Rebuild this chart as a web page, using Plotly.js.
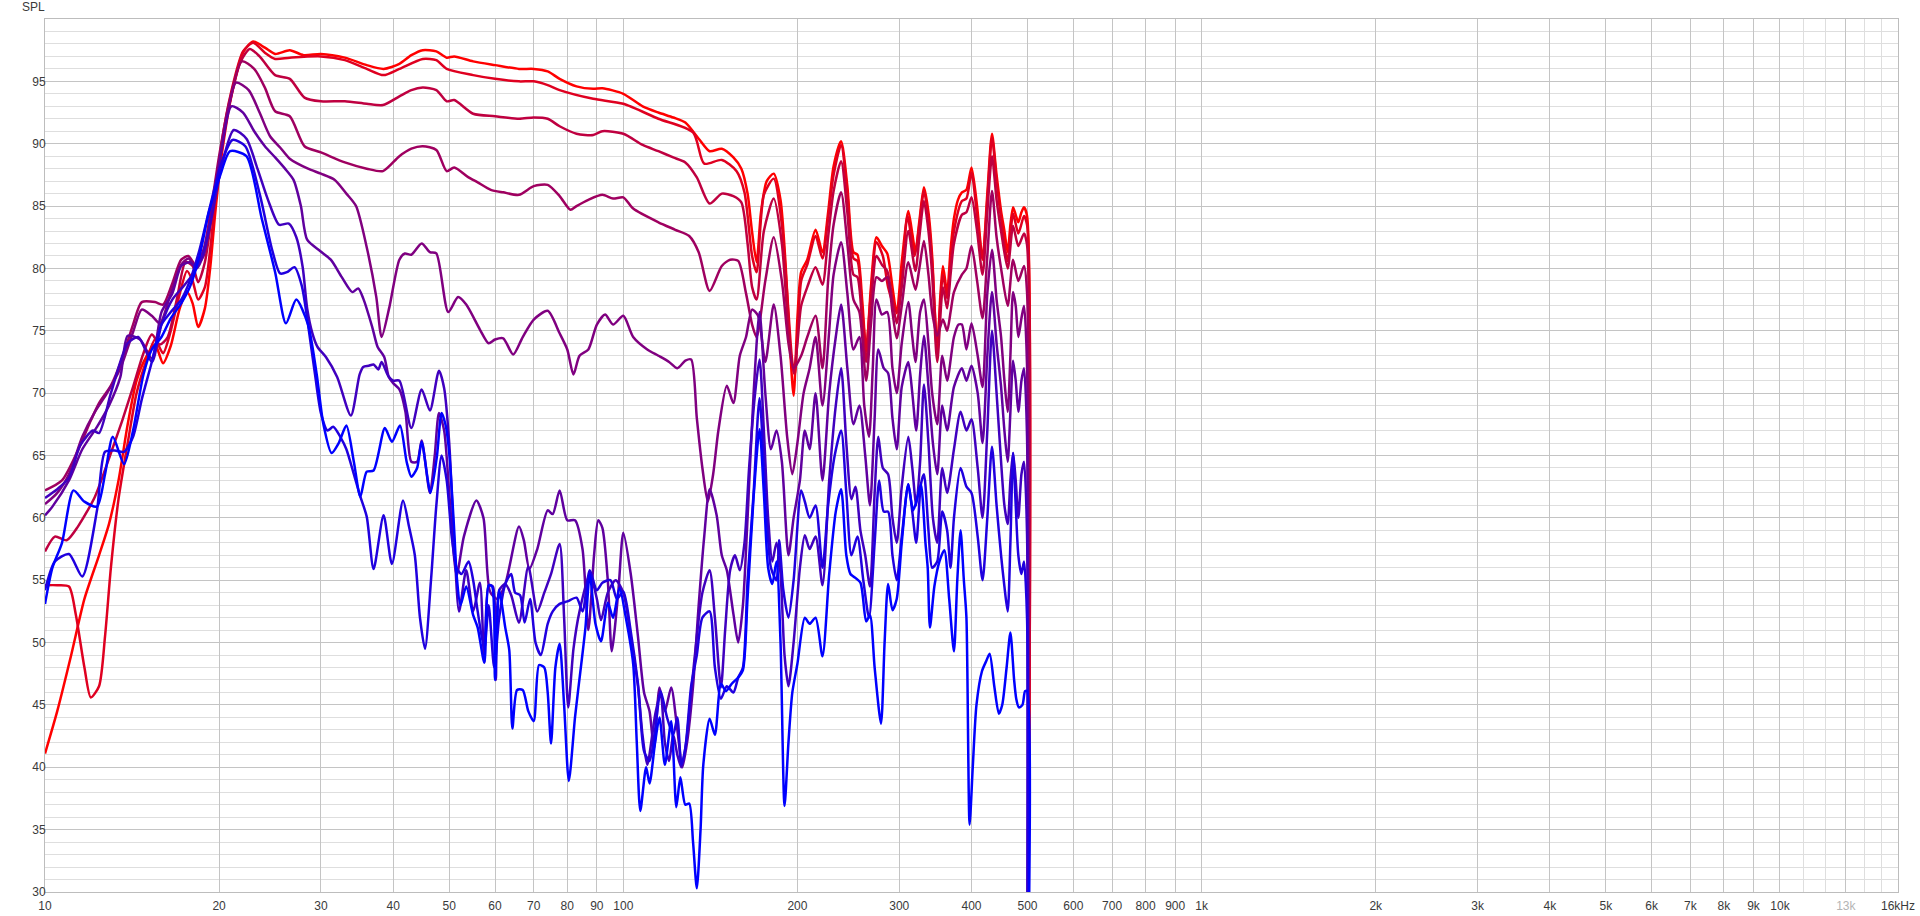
<!DOCTYPE html>
<html>
<head>
<meta charset="utf-8">
<script src="https://cdn.plot.ly/plotly-3.0.1.min.js"></script>
<style>
  html, body { margin: 0; padding: 0; background: #fff; }
  #chart { width: 1920px; height: 916px; }
</style>
</head>
<body>
<div id="chart"></div>
<script>
// SPL overlay, 9 measurements, red -> blue
// each curve: [frequency Hz, SPL dB]

const c1 = [[10,41.1],[10.5,44.5],[11.1,49.0],[11.7,53.5],[12.4,57.0],[12.9,59.5],[13.4,63.0],[13.9,67.5],[14.4,71.0],[15.0,73.0],[15.5,73.9],[16.0,72.4],[16.5,73.8],[17.1,76.8],[17.6,78.1],[18.0,77.2],[18.4,75.3],[18.9,76.8],[19.3,80.0],[19.7,84.5],[20.2,89.0],[21.0,93.8],[22.0,97.3],[22.9,98.2],[24.0,97.7],[25.0,97.2],[26.5,97.5],[28.0,97.1],[30.0,97.2],[33.0,96.9],[36.0,96.3],[38.5,96.0],[41.0,96.4],[43.0,97.1],[45.0,97.5],[47.5,97.4],[49.5,96.9],[51.0,97.0],[55.0,96.6],[60.0,96.3],[66.0,96.0],[70.0,96.0],[74.0,95.8],[77.6,95.2],[83.0,94.6],[88.7,94.4],[92.0,94.45],[100,94.0],[108,93.0],[115,92.5],[122,92.1],[128,91.7],[135,90.4],[141,89.4],[148,89.6],[155,88.9],[160,88.0],[164,86.0],[167,82.9],[170,80.5],[173,84.5],[177,87.0],[182,87.6],[187,85.5],[191,80.0],[194,74.0],[197,69.8],[200,76.0],[203,79.7],[208,80.7],[215,83.1],[221,81.3],[226,84.5],[231,88.2],[238,90.2],[244,86.6],[250,81.3],[254,81.1],[259,77.3],[263,73.3],[268,78.5],[274,82.5],[280,81.8],[286,81.2],[292,78.5],[297,76.4],[303,80.5],[311,84.6],[316,82.8],[320,81.3],[325,83.8],[331,86.5],[337,84.5],[342,81.0],[346,76.0],[349,73.0],[353,77.5],[357,80.2],[363,78.1],[368,81.5],[373,84.0],[379,85.5],[385,86.1],[392,86.3],[400,88.1],[409,85.0],[418,80.7],[426,86.0],[434,90.8],[442,87.5],[450,84.6],[456,83.0],[462,81.3],[467,83.5],[472,84.9],[477,84.3],[482,83.7],[488,84.5],[493,84.9],[499,84.2],[500,20]];

const c2 = [[10,54.6],[10.5,54.6],[11.0,54.5],[11.3,52.3],[11.7,48.0],[12.0,45.6],[12.4,46.5],[12.7,50.5],[13.0,56.0],[13.4,61.5],[13.9,66.0],[14.4,70.0],[15.0,72.7],[15.5,74.3],[16.0,73.2],[16.5,75.0],[17.0,77.5],[17.6,79.8],[18.0,79.0],[18.4,77.5],[18.9,78.5],[19.3,81.5],[19.7,85.5],[20.2,90.0],[21.0,94.2],[22.0,97.4],[22.9,98.1],[24.0,97.3],[25.0,96.8],[26.5,96.9],[30.0,97.0],[33.0,96.7],[36.0,96.0],[38.5,95.5],[41.0,96.0],[45.0,96.8],[47.5,96.7],[49.5,96.0],[55.0,95.5],[60.0,95.2],[66.0,95.0],[70.0,95.0],[74.0,94.7],[77.6,94.3],[88.7,93.6],[100,93.2],[115,92.0],[132,90.9],[138,88.4],[148,88.7],[157,87.8],[162,86.1],[167,81.0],[170,79.7],[175,85.9],[182,87.2],[188,83.5],[192,78.0],[196,72.5],[198,71.5],[203,79.0],[208,80.3],[215,82.6],[221,80.8],[226,84.0],[231,87.5],[238,89.9],[244,86.0],[250,80.8],[254,80.6],[259,76.5],[263,73.7],[268,78.0],[274,82.1],[281,81.0],[287,78.5],[297,76.5],[303,79.0],[310,84.2],[319,81.0],[325,83.5],[331,86.2],[337,84.0],[342,80.5],[349,74.0],[357,79.5],[363,77.6],[368,80.5],[373,83.0],[385,85.4],[392,85.6],[400,87.7],[409,84.2],[418,80.8],[426,85.5],[434,90.5],[442,87.0],[450,84.0],[462,80.6],[472,84.4],[482,82.8],[493,84.2],[499,83.5],[500,20]];

const c3 = [[10,57.3],[10.4,58.5],[10.9,58.2],[11.4,59.3],[12.2,61.7],[13.0,65.2],[13.6,67.8],[14.2,70.5],[14.8,73.2],[15.3,74.7],[15.8,73.9],[16.3,74.5],[16.9,77.5],[17.5,80.5],[18.0,80.2],[18.4,78.9],[18.9,80.5],[19.4,84.0],[20.0,88.5],[20.8,93.0],[21.8,96.6],[22.6,97.6],[23.5,97.0],[25.0,95.5],[26.5,95.2],[28.1,93.7],[30.0,93.4],[33.0,93.4],[36.0,93.2],[38.4,93.1],[41.0,93.8],[43.0,94.3],[45.0,94.5],[47.5,94.3],[49.5,93.4],[51.0,93.5],[55.0,92.4],[60.0,92.2],[66.0,92.0],[70.0,92.1],[74.0,92.0],[77.6,91.4],[83.0,90.8],[88.7,90.7],[92.0,91.0],[100,90.8],[108,89.9],[115,89.4],[122,88.9],[128,88.5],[134,87.3],[141,85.2],[148,86.0],[155,85.8],[160,85.3],[164,82.0],[167,78.5],[170,77.5],[175,83.0],[182,85.6],[188,82.0],[193,75.0],[197,71.6],[200,74.0],[203,77.0],[208,78.5],[215,80.1],[221,78.7],[226,82.5],[231,86.2],[238,88.6],[244,84.5],[250,79.5],[254,79.3],[259,75.5],[263,72.5],[268,77.0],[274,81.0],[280,80.3],[286,79.8],[292,77.5],[297,75.6],[303,78.5],[311,83.0],[320,79.8],[325,82.5],[331,85.4],[337,83.0],[342,79.5],[349,72.5],[357,78.5],[363,76.8],[368,79.5],[373,82.0],[385,84.3],[392,84.5],[400,85.7],[409,83.0],[418,79.5],[426,84.5],[434,89.0],[442,85.5],[450,83.0],[462,80.0],[472,83.4],[482,81.8],[493,82.8],[499,81.9],[500,20]];

const c4 = [[10,62.2],[10.7,63.0],[11.4,65.4],[12.0,67.8],[12.4,69.2],[13.0,70.6],[13.6,72.8],[14.2,75.5],[14.7,77.3],[15.5,77.3],[16.0,77.1],[16.6,78.8],[17.2,80.7],[17.7,81.0],[18.2,80.3],[18.8,81.5],[19.4,85.0],[20.0,89.0],[20.8,93.2],[21.9,96.6],[23.0,96.0],[24.0,94.5],[25.0,92.6],[26.5,92.2],[28.1,89.8],[30.0,89.3],[33.0,88.5],[36.0,88.0],[38.4,87.8],[41.0,89.0],[43.0,89.6],[45.0,89.8],[47.5,89.5],[49.5,87.8],[51.0,88.1],[54.0,87.3],[56.0,86.9],[59.0,86.3],[62.0,86.1],[66.0,85.9],[70.0,86.6],[74.0,86.7],[77.6,85.8],[81.0,84.7],[83.0,85.0],[87.0,85.5],[92.0,85.9],[96.0,85.6],[100,85.7],[104,84.8],[115,83.7],[123,83.1],[130,82.6],[135,81.3],[141,78.2],[148,80.2],[153,80.7],[158,80.6],[163,78.0],[167,75.5],[170,74.5],[176,79.0],[182,82.5],[188,79.0],[193,74.0],[197,72.0],[203,73.0],[208,74.5],[215,76.2],[221,72.0],[226,79.0],[231,83.5],[238,86.1],[244,82.0],[250,77.5],[256,76.5],[263,71.0],[268,75.5],[274,79.3],[280,79.0],[286,79.3],[292,76.5],[297,74.4],[303,77.0],[311,80.5],[320,78.3],[325,80.0],[331,82.2],[337,79.5],[342,76.5],[349,74.6],[357,75.9],[363,75.0],[368,76.5],[373,78.1],[385,79.5],[392,80.0],[400,81.8],[409,79.0],[418,76.0],[426,81.0],[434,86.2],[442,82.5],[450,80.0],[462,77.0],[472,80.7],[482,79.0],[493,80.2],[499,78.1],[500,20]];

const c5 = [[10,61.1],[10.5,62.0],[11.0,63.5],[11.6,66.5],[12.2,68.5],[12.8,70.0],[13.5,72.0],[14.2,74.9],[14.7,76.7],[15.3,76.2],[15.8,75.6],[16.5,78.0],[17.2,80.3],[17.7,80.8],[18.2,80.2],[18.8,81.0],[19.4,84.5],[20.1,89.0],[20.7,92.5],[21.4,94.9],[22.5,94.3],[23.5,92.5],[24.5,90.6],[25.5,89.7],[26.5,88.8],[28.5,88.0],[30.0,87.6],[31.7,87.1],[33.2,86.0],[34.5,85.0],[36.0,81.7],[37.4,77.7],[38.2,74.5],[39.4,76.9],[41.0,80.7],[41.9,81.2],[43.0,81.1],[44.8,82.0],[46.3,81.3],[47.5,81.2],[49.8,76.5],[51.8,77.7],[53.5,77.1],[56.5,75.1],[58.5,74.0],[60.0,74.3],[62.0,74.4],[64.5,73.1],[67.0,74.5],[70.0,75.9],[74.0,76.6],[77.6,74.8],[80.0,73.5],[82.0,71.5],[84.0,73.0],[87.0,73.5],[90.0,75.5],[93.0,76.3],[96.0,75.5],[100,76.2],[104,74.5],[110,73.5],[115,73.0],[120,72.5],[124,72.0],[128,72.6],[131,72.7],[134,68.0],[137,64.0],[140,61.3],[143,63.5],[146,67.0],[151,70.6],[155,69.2],[159,73.0],[163,74.5],[167,76.7],[171,76.2],[176,72.5],[182,77.1],[187,73.0],[192,66.5],[196,63.5],[200,66.0],[205,70.0],[210,72.0],[215,74.5],[221,69.0],[227,75.0],[231,79.5],[238,82.1],[244,78.0],[250,73.5],[256,74.5],[261,69.0],[266,66.5],[270,72.0],[274,77.5],[280,76.3],[286,76.5],[292,72.0],[297,70.0],[303,74.0],[311,77.3],[316,74.5],[320,72.5],[326,76.5],[331,77.5],[337,74.0],[342,70.0],[349,67.5],[356,73.0],[363,71.0],[373,74.5],[380,75.5],[385,75.5],[392,73.5],[400,75.6],[410,73.0],[418,70.5],[426,78.0],[434,81.5],[442,77.5],[450,74.5],[456,71.0],[462,68.5],[467,73.0],[472,78.1],[477,77.0],[482,74.5],[488,76.0],[493,77.0],[499,72.2],[500,20]];

const c6 = [[10,60.2],[10.3,60.9],[11.0,63.0],[11.6,65.5],[12.3,67.3],[12.9,69.0],[13.5,71.3],[13.9,74.6],[14.6,74.3],[15.3,72.8],[15.9,76.5],[16.6,78.0],[17.2,80.2],[17.8,80.5],[18.3,80.0],[18.9,81.5],[19.5,85.0],[20.2,89.5],[21.0,93.0],[22.0,92.5],[23.0,91.0],[24.0,89.8],[25.0,88.9],[26.0,88.0],[26.9,87.1],[27.7,85.0],[28.4,82.3],[29.9,81.4],[31.2,80.7],[32.6,79.3],[34.0,78.1],[34.8,78.4],[35.5,77.6],[36.8,75.3],[37.6,73.7],[38.6,72.9],[39.3,71.3],[40.0,70.8],[41.0,70.3],[42.0,68.5],[43.0,64.5],[44.0,64.5],[44.8,66.2],[46.3,62.0],[47.2,65.0],[48.0,68.4],[49.0,67.0],[50.0,62.0],[51.5,55.4],[53.0,58.5],[55.7,61.4],[57.3,60.0],[58.8,54.1],[60.5,53.5],[62.5,54.7],[66.0,59.3],[67.3,58.2],[68.8,55.9],[71.0,57.5],[74.0,60.6],[75.5,60.3],[77.6,62.2],[80.0,59.8],[82.5,59.8],[85.0,57.5],[87.0,51.0],[89.0,57.0],[90.5,59.8],[92.0,59.2],[94.0,55.0],[95.5,49.3],[98.0,54.0],[100,58.8],[103,55.5],[106,50.5],[108.6,46.0],[111,44.5],[113,41.5],[115.5,46.4],[118,44.5],[121,46.4],[124,43.0],[126.5,40.0],[129,42.1],[132,46.5],[135,53.0],[138,58.5],[141,62.3],[145,60.2],[148,57.0],[151,55.8],[155,52.3],[158,50.0],[161,53.0],[164,60.0],[168,70.0],[172,76.5],[176,70.0],[180,65.5],[184,67.0],[188,64.5],[193,57.0],[197,60.0],[202,63.0],[206,67.0],[210,65.5],[215,70.0],[221,63.0],[227,70.0],[233,74.5],[238,77.1],[244,72.0],[250,67.5],[256,69.0],[262,65.0],[267,61.0],[272,68.0],[276,73.5],[282,72.0],[287,71.6],[292,68.0],[297,65.5],[303,70.5],[311,72.5],[316,70.0],[321,67.0],[326,71.5],[331,74.6],[337,70.5],[343,66.0],[349,63.5],[356,69.0],[363,67.0],[373,70.5],[385,72.0],[392,71.0],[400,72.2],[410,70.0],[418,66.0],[426,73.0],[434,78.1],[442,74.0],[450,70.5],[456,67.0],[462,64.5],[467,68.5],[472,72.6],[477,71.0],[482,68.5],[488,71.0],[493,72.0],[499,66.5],[500,20]];

const c7 = [[10,61.6],[10.5,62.3],[11.0,63.2],[11.5,65.8],[12.1,67.0],[12.4,66.8],[13.0,70.0],[13.9,74.0],[14.5,74.5],[15.3,72.5],[15.9,75.5],[16.6,77.5],[17.3,78.5],[18.0,79.5],[18.7,81.0],[19.4,84.0],[20.2,88.2],[21.2,91.1],[22.3,90.4],[23.3,88.0],[24.3,85.5],[25.4,83.5],[26.4,83.6],[27.2,82.5],[27.9,80.1],[28.4,76.8],[29.0,74.8],[29.6,73.7],[30.6,72.9],[32.0,71.3],[33.8,68.2],[35.0,71.5],[35.5,72.1],[36.3,72.2],[37.0,72.3],[37.7,71.9],[38.2,72.5],[39.2,71.4],[40.0,71.0],[41.0,71.0],[43.0,67.2],[44.8,70.3],[46.3,68.6],[48.0,71.8],[49.0,70.4],[50.0,66.0],[51.0,58.0],[52.0,52.5],[53.5,55.8],[55.0,52.5],[56.5,54.8],[57.5,48.4],[58.5,54.6],[59.5,54.5],[60.2,47.0],[61.0,54.2],[62.5,54.7],[64.0,53.8],[66.0,51.6],[68.5,56.1],[71.0,52.5],[73.0,54.0],[75.0,55.5],[77.6,57.9],[79.0,52.0],[80.3,44.8],[82.0,49.5],[84.0,52.5],[87.5,55.5],[90.0,53.5],[91.5,51.8],[94.0,54.0],[97.0,55.0],[100,54.0],[103,50.5],[106,46.5],[108,42.5],[110,40.2],[113.5,44.2],[116,46.0],[118,42.0],[120,40.5],[122,42.6],[124,41.0],[126,40.0],[128.5,42.1],[131,46.0],[134,50.5],[137,54.0],[141,55.8],[144,52.0],[147.5,46.4],[150,51.0],[153,55.8],[156,57.0],[159,55.8],[162,58.0],[165,64.0],[169,70.0],[172,72.7],[175,67.0],[178,60.0],[181,56.5],[184,58.0],[187,55.5],[190,49.0],[193,46.5],[197,50.0],[202,56.0],[206,58.6],[210,57.5],[215,58.5],[221,54.6],[227,63.0],[233,69.0],[238,72.0],[243,66.0],[248,61.5],[252,62.5],[257,59.0],[262,57.0],[267,54.5],[272,62.0],[276,66.5],[281,64.0],[287,63.5],[292,60.0],[297,58.0],[303,62.5],[311,66.5],[316,64.0],[321,61.0],[326,64.5],[331,70.7],[337,66.0],[343,60.0],[349,58.0],[356,64.0],[363,62.0],[373,65.5],[383,68.5],[392,67.0],[400,67.9],[410,64.0],[418,60.0],[426,67.0],[434,75.0],[442,70.0],[450,64.5],[456,61.0],[462,59.5],[467,63.0],[472,65.2],[477,63.0],[482,60.0],[488,63.5],[493,64.5],[499,58.7],[500,20]];

const c8 = [[10,54.2],[10.4,56.5],[11.0,57.1],[11.6,55.3],[12.3,60.6],[12.7,65.3],[13.2,65.4],[13.7,65.3],[14.2,66.5],[14.7,69.5],[15.3,72.5],[15.9,75.5],[16.5,76.5],[17.2,77.5],[17.8,79.0],[18.5,81.5],[19.3,85.0],[20.2,88.5],[21.1,90.3],[22.2,89.8],[23.5,86.0],[24.7,81.5],[25.5,79.6],[26.2,79.7],[27.0,80.1],[27.8,78.6],[28.5,75.5],[29.3,71.5],[30.0,68.4],[30.8,67.0],[31.5,67.3],[32.4,66.5],[33.2,65.5],[34.2,63.5],[35.1,61.7],[36.0,60.1],[37.0,55.9],[38.5,60.2],[39.8,56.3],[41.6,61.4],[42.6,59.3],[43.6,57.0],[44.5,52.0],[45.4,49.5],[46.5,55.0],[47.5,61.0],[48.5,65.0],[49.5,63.0],[50.5,58.5],[51.5,56.0],[52.5,55.5],[54.0,56.5],[55.0,55.0],[56.0,52.5],[57.5,49.5],[58.5,53.0],[59.8,48.0],[61.0,52.0],[62.5,54.7],[64.0,55.5],[65.0,54.0],[66.3,53.8],[67.5,51.6],[69.0,53.5],[70.5,50.0],[72.0,49.0],[74.0,51.5],[75.5,52.5],[77.6,53.1],[80,53.3],[83,53.6],[85,52.5],[87.5,55.8],[90,54.2],[92,54.8],[95,55.0],[97.5,53.5],[100,54.1],[103,50.9],[106,46.7],[108.6,41.3],[111,40.5],[113.5,43.0],[116,46.1],[119,44.0],[122,42.6],[124,44.0],[126,40.2],[128,41.5],[131,46.5],[134,49.0],[137,52.0],[141,52.5],[144,48.0],[147.5,45.5],[151,46.5],[155,46.0],[158,47.2],[161,48.0],[164,55.0],[168,62.0],[172,69.6],[176,62.0],[180,56.0],[184,55.0],[186,58.2],[189,54.3],[193,52.0],[197,55.0],[203,62.2],[206,61.3],[210,60.0],[215,61.0],[221,56.0],[226,61.0],[232,65.0],[238,67.0],[243,62.0],[248,57.0],[254,58.5],[260,55.0],[266,52.0],[272,58.0],[277,63.0],[282,60.5],[287,60.5],[292,57.0],[297,55.0],[303,58.5],[311,62.7],[316,60.5],[321,58.0],[327,62.7],[331,63.5],[337,59.0],[342,56.0],[349,56.5],[356,60.5],[363,59.0],[368,56.0],[373,60.0],[383,64.0],[392,62.5],[400,62.0],[410,58.5],[418,55.0],[426,60.0],[434,65.7],[442,61.0],[450,57.0],[456,54.5],[462,52.5],[467,58.0],[472,65.2],[477,61.0],[482,57.0],[488,55.5],[493,56.5],[499,52.0],[500,20]];

const c9 = [[10,53.1],[10.3,56.0],[10.7,58.0],[11.2,62.2],[11.7,61.3],[12.3,60.9],[12.7,63.5],[13.1,66.5],[13.7,64.3],[14.2,67.0],[14.8,71.5],[15.3,73.5],[15.9,74.5],[16.5,76.0],[17.2,77.2],[17.8,78.5],[18.5,81.0],[19.2,84.5],[20.1,87.5],[20.9,89.4],[22.3,89.0],[23.7,84.0],[25.0,79.7],[26.1,75.6],[27.2,77.5],[28.5,75.5],[29.5,71.5],[30.3,67.5],[31.3,65.2],[32.2,66.0],[33.2,67.4],[34.2,64.5],[35.1,61.7],[36.0,63.7],[37.0,63.8],[38.7,67.2],[39.8,66.1],[41.1,67.4],[42.2,64.5],[43.0,63.3],[44.0,64.0],[44.8,66.1],[46.4,62.0],[47.6,64.9],[48.5,68.4],[49.3,67.4],[50.0,65.2],[51.0,59.0],[51.5,55.4],[52.3,53.0],[53.5,54.5],[55.0,52.2],[56.0,51.2],[57.5,48.4],[58.5,54.6],[59.3,54.5],[60.0,47.0],[61.0,54.2],[62.5,51.2],[63.5,49.4],[64.3,43.1],[65.5,46.2],[67.0,46.2],[68.5,44.5],[70.0,43.7],[71.5,48.2],[73.0,48.0],[74.0,46.0],[75.0,41.9],[76.3,48.0],[77.6,49.9],[79,45.0],[80.5,38.9],[82.5,44.0],[83.5,46.1],[86,51.2],[87.5,55.5],[89.5,51.5],[91.5,50.1],[94,53.2],[96,52.0],[98.5,54.4],[101,52.0],[104,48.3],[105.5,42.0],[107,36.5],[109.5,40.0],[111,38.7],[113.5,42.0],[115.5,44.0],[118,40.2],[121,43.7],[123.5,36.8],[125.5,39.2],[128,37.0],[130,37.1],[132,34.0],[134,30.3],[136,35.0],[137.5,40.2],[141,43.9],[144,42.6],[147.5,46.7],[150.5,46.1],[154,46.7],[158,47.2],[161,47.8],[164,53.6],[168,61.7],[172,67.1],[175,62.0],[178,56.0],[181,54.7],[184,56.5],[187,50.0],[190,36.9],[193,42.0],[196,46.0],[200,48.3],[206,52.0],[210,51.5],[215,52.0],[221,48.9],[227,55.5],[233,60.5],[238,62.3],[243,57.0],[247,55.5],[250,55.3],[257,54.8],[263,51.7],[267,52.2],[272,48.0],[279,43.5],[283,50.0],[287,54.7],[292,52.6],[297,53.5],[303,58.0],[311,62.7],[317,60.6],[322,61.5],[327,62.7],[333,58.0],[336,56.0],[339,51.2],[345,54.5],[352,56.5],[359,57.4],[366,53.5],[373,49.3],[378,55.0],[383,59.0],[388,55.0],[392,52.0],[397,35.4],[402,40.0],[408,45.0],[417,47.7],[424,48.5],[430,49.1],[438,46.5],[446,44.3],[452,45.0],[460,48.0],[467,50.8],[474,47.0],[478,45.5],[483,44.8],[490,45.0],[495,46.1],[499,46.1],[500,20]];

const curves = [c1, c2, c3, c4, c5, c6, c7, c8, c9];
const curveColors = ['rgb(255,0,0)', 'rgb(223,0,32)', 'rgb(191,0,64)', 'rgb(159,0,96)', 'rgb(128,0,128)',
                     'rgb(96,0,159)', 'rgb(64,0,191)', 'rgb(32,0,223)', 'rgb(0,0,255)'];

// axis ticks
const xTickVals = [10,20,30,40,50,60,70,80,90,100,200,300,400,500,600,700,800,900,
                   1000,2000,3000,4000,5000,6000,7000,8000,9000,10000,13000,16000];
const xTickText = ['10','20','30','40','50','60','70','80','90','100','200','300','400','500','600','700','800','900',
                   '1k','2k','3k','4k','5k','6k','7k','8k','9k','10k','<span style="color:#b4b4b4">13k</span>','16kHz'];
const xFineLines = [11000, 12000, 13000, 14000, 15000];
const xDecadeLines = [100, 1000, 10000];
const yTickVals = [30,35,40,45,50,55,60,65,70,75,80,85,90,95];

let yMinor = [];
for (let v = 31; v < 100; v++) {
    if (v % 5 !== 0) yMinor.push(v);
}

let traces = [];
for (let i = 0; i < curves.length; i++) {
    traces.push({
        x: curves[i].map(p => p[0]),
        y: curves[i].map(p => p[1]),
        type: 'scatter',
        mode: 'lines',
        line: { color: curveColors[i], width: 2.5, shape: 'spline', smoothing: 0.7 },
        hoverinfo: 'skip'
    });
}

let shapes = [];
// darker lines at each decade
for (let f of xDecadeLines) {
    shapes.push({
        type: 'line', xref: 'x', yref: 'paper', layer: 'below',
        x0: Math.log10(f), x1: Math.log10(f), y0: 0, y1: 1,
        line: { color: '#8e8e8e', width: 1 }
    });
}
// the 13k line is light like the other fine lines above 10k
shapes.push({
    type: 'line', xref: 'x', yref: 'paper', layer: 'below',
    x0: Math.log10(13000), x1: Math.log10(13000), y0: 0, y1: 1,
    line: { color: '#dedede', width: 1 }
});

const tickFont = { family: 'Liberation Sans, Arial, sans-serif', size: 12, color: '#3a3a3a' };

const layout = {
    width: 1920,
    height: 916,
    margin: { l: 45, r: 22, t: 19, b: 24 },
    paper_bgcolor: '#ffffff',
    plot_bgcolor: '#ffffff',
    showlegend: false,
    hovermode: false,
    xaxis: {
        type: 'log',
        range: [1, Math.log10(16000)],
        tickmode: 'array',
        tickvals: xTickVals,
        ticktext: xTickText,
        ticks: 'outside',
        ticklen: 3,
        tickcolor: 'rgba(0,0,0,0)',
        tickfont: tickFont,
        showgrid: true,
        gridcolor: '#c4c4c4',
        gridwidth: 1,
        minor: { tickvals: xFineLines, showgrid: true, gridcolor: '#dedede', ticks: '' },
        showline: true,
        linecolor: '#bdbdbd',
        mirror: true,
        zeroline: false,
        fixedrange: true
    },
    yaxis: {
        range: [30, 100],
        tickmode: 'array',
        tickvals: yTickVals,
        ticks: '',
        ticklabelstandoff: -4,
        tickfont: tickFont,
        showgrid: true,
        gridcolor: '#c4c4c4',
        gridwidth: 1,
        minor: { tickvals: yMinor, showgrid: true, gridcolor: '#dedede', ticks: '' },
        showline: true,
        linecolor: '#bdbdbd',
        mirror: true,
        zeroline: false,
        fixedrange: true
    },
    shapes: shapes,
    annotations: [{
        text: 'SPL',
        xref: 'paper', yref: 'paper',
        x: 0, y: 1.0132,
        xanchor: 'right', yanchor: 'middle',
        xshift: 2,
        showarrow: false,
        font: { family: 'Liberation Sans, Arial, sans-serif', size: 12, color: '#3a3a3a' }
    }]
};

Plotly.newPlot('chart', traces, layout, { displayModeBar: false, staticPlot: true });
</script>
</body>
</html>
